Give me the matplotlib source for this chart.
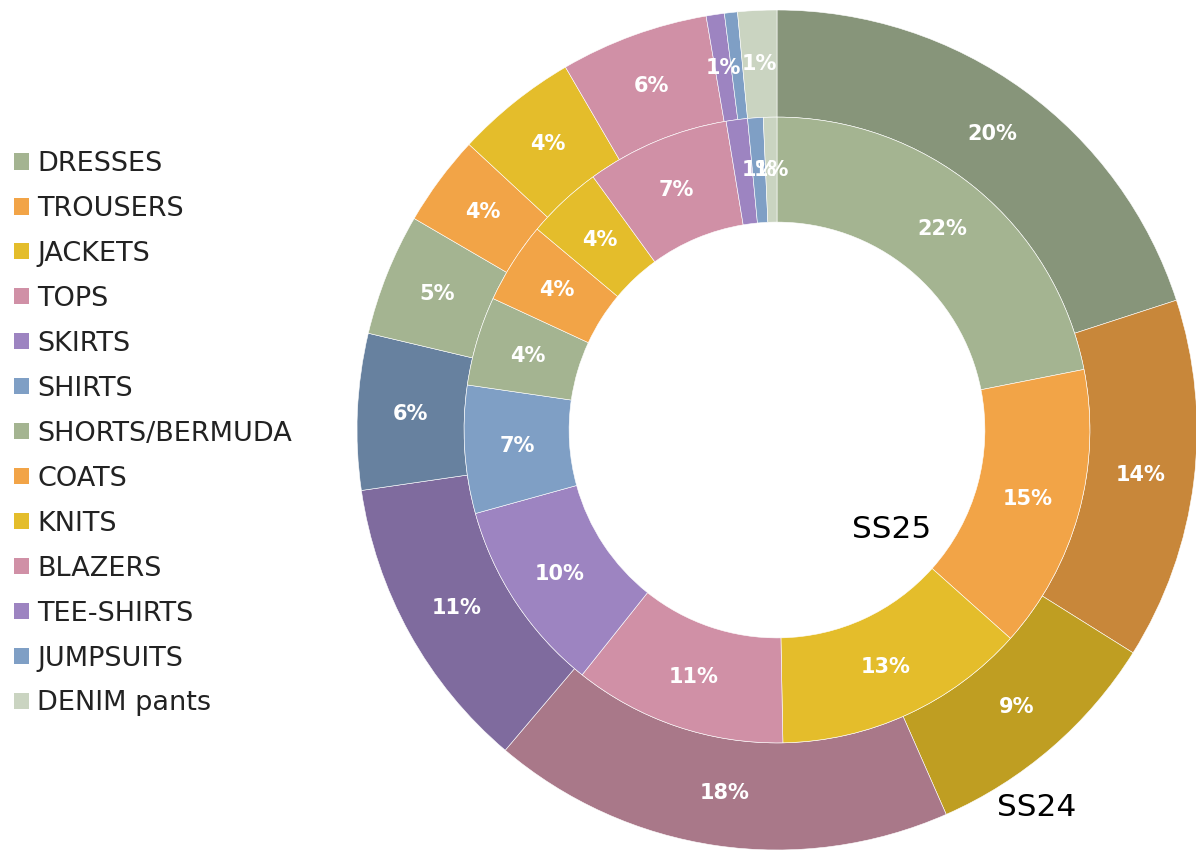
import numpy as np
import matplotlib.pyplot as plt
from matplotlib.patches import Patch

categories = ['DRESSES', 'TROUSERS', 'JACKETS', 'TOPS', 'SKIRTS', 'SHIRTS',
              'SHORTS/BERMUDA', 'COATS', 'KNITS', 'BLAZERS', 'TEE-SHIRTS',
              'JUMPSUITS', 'DENIM pants']

# shares (%)
ss24 = [20.0, 13.9, 9.5, 17.8, 11.5, 6.0, 4.7, 3.5, 4.7, 5.7, 0.7, 0.5, 1.5]
ss25 = [21.9, 14.7, 13.1, 11.0, 10.0, 6.6, 4.6, 4.2, 3.9, 7.4, 1.1, 0.8, 0.7]

# printed labels
ss24_labels = ['20%', '14%', '9%', '18%', '11%', '6%', '5%', '4%', '4%', '6%', '1%', '', '1%']
ss25_labels = ['22%', '15%', '13%', '11%', '10%', '7%', '4%', '4%', '4%', '7%', '', '1%', '1%']

base_colors = ['#A4B491', '#F2A447', '#E4BD2B', '#D090A6', '#9D84C1', '#7F9FC5',
               '#A4B491', '#F2A447', '#E4BD2B', '#D090A6', '#9D84C1', '#7F9FC5',
               '#CAD4C1']
outer_colors = ['#87957A', '#C8873A', '#BF9E22', '#A97889', '#7F6B9E', '#67819F'] + base_colors[6:]

fig = plt.figure(figsize=(11.96, 8.51), dpi=100)
ax = fig.add_axes([357 / 1196, 1 / 851, 840 / 1196, 840 / 851])

R = 1.0
w_out = 0.255
r_in = 0.745
w_in = 0.25

wedges_out, _ = ax.pie(ss24, radius=R, colors=outer_colors, startangle=90,
                       counterclock=False,
                       wedgeprops=dict(width=w_out, edgecolor='white', linewidth=0.4))
wedges_in, _ = ax.pie(ss25, radius=r_in, colors=base_colors, startangle=90,
                      counterclock=False,
                      wedgeprops=dict(width=w_in, edgecolor='white', linewidth=0.4))

def put_labels(wedges, labels, r):
    for wd, lab in zip(wedges, labels):
        if not lab:
            continue
        ang = np.deg2rad((wd.theta1 + wd.theta2) / 2)
        ax.text(r * np.cos(ang), r * np.sin(ang), lab, ha='center', va='center',
                color='white', fontsize=15, fontweight='bold')

put_labels(wedges_out, ss24_labels, R - w_out / 2)
put_labels(wedges_in, ss25_labels, r_in - w_in / 2)

ax.text(0.274, -0.238, 'SS25', ha='center', va='center', fontsize=22.5, color='black')
ax.text(0.619, -0.90, 'SS24', ha='center', va='center', fontsize=22.5, color='black')

ax.set_xlim(-1, 1)
ax.set_ylim(-1, 1)
ax.set_aspect('equal')
ax.axis('off')

handles = [Patch(facecolor=c, edgecolor='none') for c in base_colors]
fig.legend(handles, categories, loc='upper left', bbox_to_anchor=(14 / 1196, 1 - 151 / 851),
           frameon=False, fontsize=19.5, labelcolor='#222222',
           handlelength=0.55, handleheight=0.55, handletextpad=0.3,
           labelspacing=0.70, borderpad=0, borderaxespad=0)

fig.savefig('out.png', dpi=100)
